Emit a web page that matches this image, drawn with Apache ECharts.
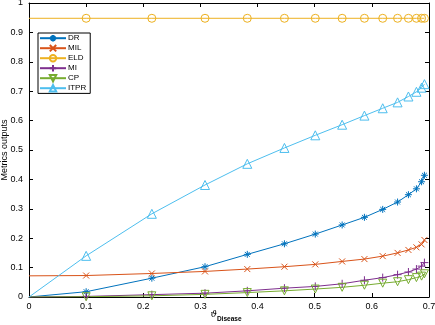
<!DOCTYPE html>
<html>
<head>
<meta charset="utf-8">
<script src="https://cdn.jsdelivr.net/npm/echarts@6/dist/echarts.min.js"></script>
<style>
html,body{margin:0;padding:0;background:#fff;}
#c{width:435px;height:325px;}
</style>
</head>
<body>
<div id="c"></div>
<script>
const xValues = [0, 0.1, 0.215, 0.308, 0.382, 0.447, 0.501, 0.548, 0.587, 0.619, 0.645, 0.664, 0.678, 0.687, 0.692];
const DR   = [0, 0.018, 0.064, 0.103, 0.145, 0.181, 0.214, 0.245, 0.271, 0.298, 0.323, 0.348, 0.368, 0.392, 0.414];
const MIL  = [0.072, 0.073, 0.080, 0.087, 0.095, 0.103, 0.111, 0.121, 0.129, 0.139, 0.150, 0.160, 0.169, 0.179, 0.194];
const ELD  = [0.948, 0.948, 0.948, 0.948, 0.948, 0.948, 0.948, 0.948, 0.948, 0.948, 0.948, 0.948, 0.948, 0.948, 0.948];
const MI   = [0, 0.002, 0.008, 0.013, 0.021, 0.030, 0.036, 0.045, 0.057, 0.066, 0.076, 0.085, 0.095, 0.105, 0.117];
const CP   = [0, 0.001, 0.004, 0.009, 0.015, 0.021, 0.027, 0.033, 0.040, 0.047, 0.052, 0.059, 0.066, 0.071, 0.079];
const ITPR = [0, 0.140, 0.283, 0.381, 0.453, 0.507, 0.550, 0.586, 0.617, 0.642, 0.662, 0.682, 0.698, 0.712, 0.724];
const seriesNames = ['DR', 'MIL', 'ELD', 'MI', 'CP', 'ITPR'];
const seriesValues = [DR, MIL, ELD, MI, CP, ITPR];

const colors = ['#0072BD', '#D95319', '#EDB120', '#7E2F8E', '#77AC30', '#4DBEEE'];
const symbols = [
  'path://M5,0V10M0,5H10M1.5,1.5L8.5,8.5M8.5,1.5L1.5,8.5',
  'path://M0,0L10,10M10,0L0,10',
  'circle',
  'path://M5,0V10M0,5H10',
  'triangle',
  'triangle'
];
const sizes = [7, 6, 8, 8, 8, 9];
const rotates = [0, 0, 0, 0, 180, 0];

const font = 'Liberation Sans, Arial, sans-serif';
const chart = echarts.init(document.getElementById('c'), null, {renderer: 'canvas'});

const series = seriesNames.map((name, i) => ({
  name: name,
  type: 'line',
  xAxisIndex: 0,
  yAxisIndex: 0,
  data: xValues.map((x, j) => (j === 0 ? {value: [x, seriesValues[i][j]], symbol: 'none'} : [x, seriesValues[i][j]])),
  symbol: symbols[i],
  symbolSize: sizes[i],
  symbolRotate: rotates[i],
  showAllSymbol: true,
  animation: false,
  lineStyle: {color: colors[i], width: 1},
  itemStyle: {color: 'rgba(0,0,0,0)', borderColor: colors[i], borderWidth: 1},
  emphasis: {disabled: true}
}));

const axisCommon = {
  axisLine: {show: true, onZero: false, lineStyle: {color: '#000', width: 1}},
  axisTick: {show: true, inside: true, length: 4, lineStyle: {color: '#000'}},
  splitLine: {show: false},
  axisLabel: {color: '#000', fontSize: 9, fontFamily: font}
};

chart.setOption({
  backgroundColor: '#fff',
  animation: false,
  color: colors,
  grid: {left: 29, right: 6, top: 3, bottom: 28, containLabel: false, outerBoundsMode: 'none'},
  legend: {
    orient: 'vertical',
    left: 38,
    top: 33,
    itemWidth: 26,
    itemHeight: 8,
    itemGap: 1.6,
    padding: [1, 4, 1, 1],
    borderColor: '#000',
    borderWidth: 1,
    backgroundColor: '#fff',
    textStyle: {fontSize: 8, fontFamily: font, color: '#000', lineHeight: 8, padding: [0, 0, 0, -3]},
    data: seriesNames
  },
  xAxis: [
    Object.assign({}, axisCommon, {
      type: 'value', position: 'bottom', min: 0, max: 0.7, interval: 0.1,
      axisLabel: Object.assign({}, axisCommon.axisLabel, {margin: 5}),
      name: '{a|ϑ}{b|Disease}',
      nameLocation: 'middle',
      nameGap: 13,
      nameMoveOverlap: false,
      nameTextStyle: {
        padding: [0, 6, 0, 0],
        rich: {
          a: {fontSize: 9, fontStyle: 'italic', fontFamily: 'DejaVu Serif, serif', color: '#000', verticalAlign: 'top'},
          b: {fontSize: 6.5, fontWeight: 'bold', fontFamily: font, color: '#000', padding: [6, 0, 0, 0]}
        }
      }
    }),
    Object.assign({}, axisCommon, {
      type: 'value', position: 'top', min: 0, max: 0.7, interval: 0.1,
      axisLabel: {show: false}
    })
  ],
  yAxis: [
    Object.assign({}, axisCommon, {
      type: 'value', position: 'left', min: 0, max: 1, interval: 0.1,
      axisLabel: Object.assign({}, axisCommon.axisLabel, {margin: 6}),
      name: 'Metrics outputs',
      nameLocation: 'middle',
      nameGap: 20,
      nameMoveOverlap: false,
      nameTextStyle: {fontSize: 9, fontFamily: font, color: '#000'}
    }),
    Object.assign({}, axisCommon, {
      type: 'value', position: 'right', min: 0, max: 1, interval: 0.1,
      axisLabel: {show: false}
    })
  ],
  series: series
});
</script>
</body>
</html>
